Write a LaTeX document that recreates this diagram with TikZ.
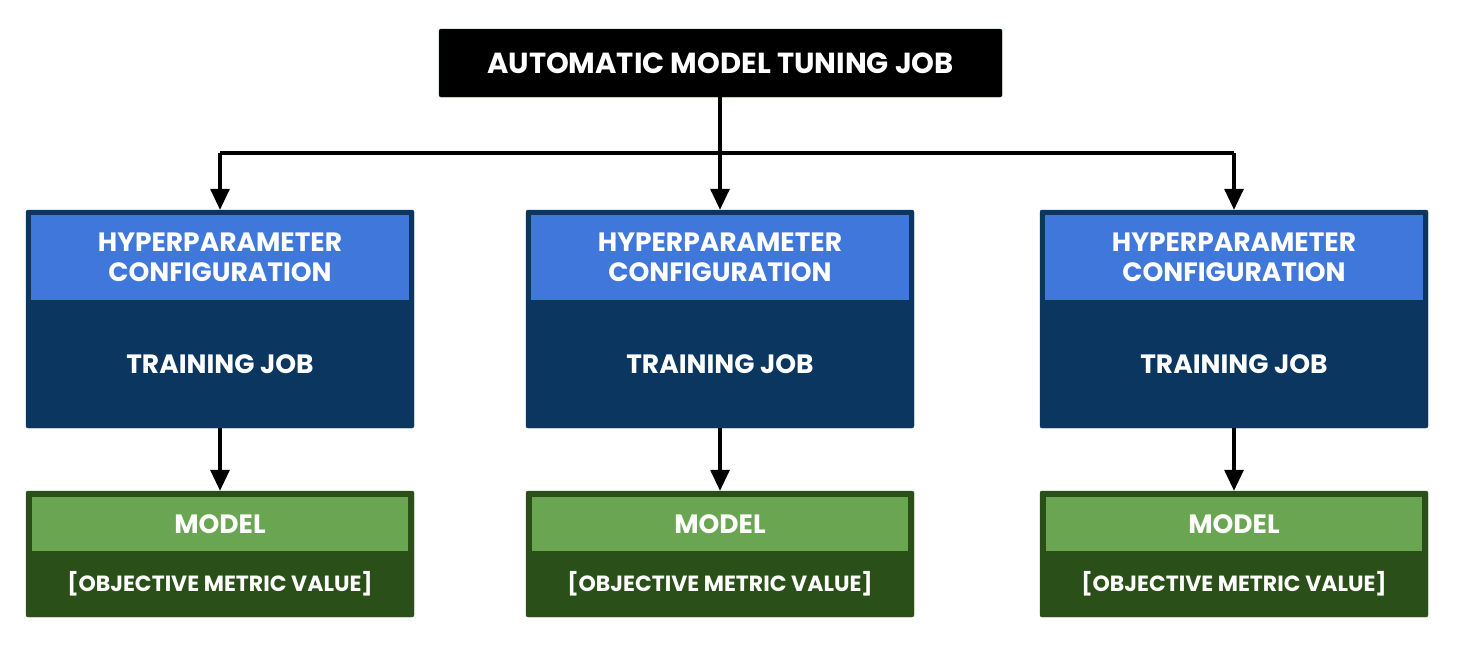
\documentclass[tikz,border=0pt]{standalone}
\usepackage{fontspec}
\setmainfont{Poppins}
\usetikzlibrary{arrows.meta}
\definecolor{lblue}{HTML}{4077DB}
\definecolor{dblue}{HTML}{0A365F}
\definecolor{lgreen}{HTML}{6AA551}
\definecolor{dgreen}{HTML}{2A4F18}
\tikzset{
  topbox/.style={draw=black!80!green, fill=black, rounded corners=1.5pt, minimum width=563pt, minimum height=68pt, text=white, font=\fontsize{29}{32}\selectfont\bfseries, inner sep=0pt},
  outerblue/.style={fill=dblue, draw=dblue, rounded corners=2pt, minimum width=388pt, minimum height=218pt, inner sep=0pt},
  headblue/.style={fill=lblue, minimum width=378pt, minimum height=85pt, inner sep=0pt, text=white, align=center, font=\fontsize{26.5}{29.5}\selectfont\bfseries},
  bodytext/.style={text=white, font=\fontsize{26.5}{30}\selectfont\bfseries, inner sep=0pt},
  outergreen/.style={fill=dgreen, draw=dgreen, rounded corners=2pt, minimum width=388pt, minimum height=126pt, inner sep=0pt},
  headgreen/.style={fill=lgreen, minimum width=376pt, minimum height=54pt, inner sep=0pt, text=white, font=\fontsize{26.5}{30}\selectfont\bfseries},
  smalltext/.style={text=white, font=\fontsize{22}{26}\selectfont\bfseries, inner sep=0pt},
  conn/.style={draw=black, line width=3.2pt, -{Triangle[length=21pt,width=19pt]}},
  plain/.style={draw=black, line width=3.2pt},
}
\begin{document}
\begin{tikzpicture}[x=1pt,y=-1pt]
\useasboundingbox (0,0) rectangle (1461,651);
\node[topbox] (top) at (720.5,63) {AUTOMATIC MODEL TUNING JOB};
\foreach \i/\cx in {1/220,2/720,3/1234}{
  \node[outerblue] (b\i) at (\cx,319) {};
  \node[headblue] (h\i) at (\cx,257.5) {HYPERPARAMETER\\CONFIGURATION};
  \node[bodytext] (t\i) at (\cx,364) {TRAINING JOB};
  \node[outergreen] (g\i) at (\cx,554) {};
  \node[headgreen] (m\i) at (\cx,524) {MODEL};
  \node[smalltext] (o\i) at (\cx,584) {[OBJECTIVE METRIC VALUE]};
}
\coordinate (jl) at (220,153);
\coordinate (jm) at (720,153);
\coordinate (jr) at (1234,153);
\draw[plain] (jl) -- (jr);
\draw[conn] (top.south -| jm) -- (b2.north);
\draw[conn] (jl) -- (b1.north);
\draw[conn] (jr) -- (b3.north);
\foreach \i in {1,2,3}{
  \draw[conn] (b\i.south) -- (g\i.north);
}
\end{tikzpicture}
\end{document}
